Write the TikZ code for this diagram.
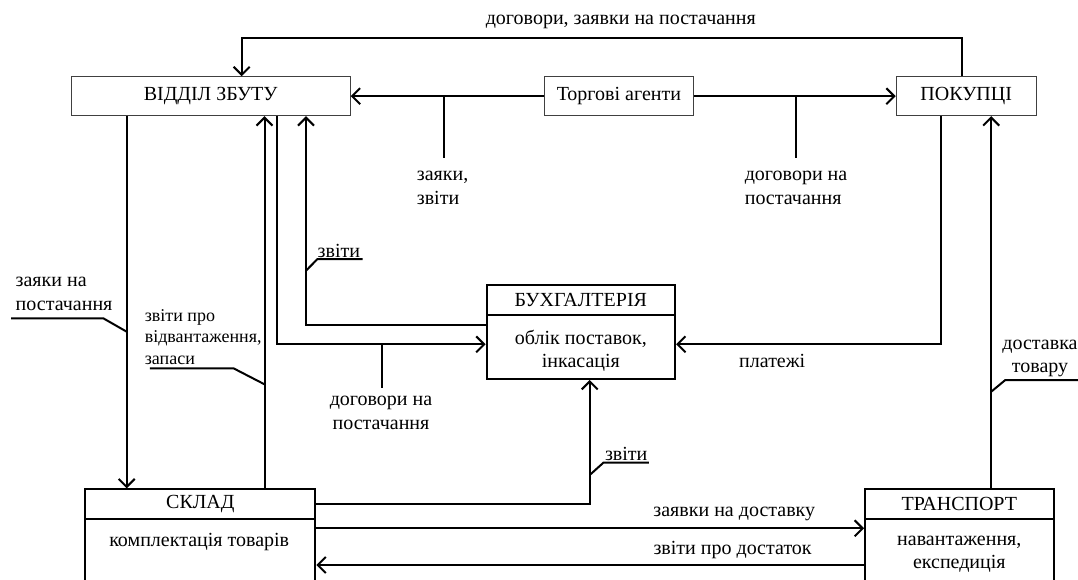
\documentclass[tikz,border=0pt]{standalone}
\usepackage{fontspec}
\setmainfont{Liberation Serif}
\usetikzlibrary{arrows.meta}

\begin{document}
\begin{tikzpicture}[x=1pt, y=-1pt,
    font=\fontsize{20}{23.3}\selectfont,
    box/.style={draw=black!75, line width=1pt, minimum height=39pt, inner sep=0pt},
    head/.style={draw, line width=2pt, minimum height=30pt, inner sep=0pt},
    body/.style={draw, line width=2pt, inner sep=0pt},
    flow/.style={line width=2pt, -{Straight Barb[length=8pt,width=16pt]}},
    link/.style={line width=2pt},
    lbl/.style={inner sep=0pt, align=left}]
    \clip (0,0) rectangle (1078,579);

    % Nodes
    \node[box, minimum width=279pt] (vz) at (210.7,96.2) {ВІДДІЛ ЗБУТУ};
    \node[box, minimum width=149.5pt] (ta) at (618.9,96.2) {Торгові агенти};
    \node[box, minimum width=140pt] (pk) at (966.2,96.2) {ПОКУПЦІ};

    \node[head, minimum width=188.5pt] (bh) at (580.85,300) {БУХГАЛТЕРІЯ};
    \node[body, minimum width=188.5pt, minimum height=64pt] (bhb) at (580.85,347) {};
    \node[lbl, align=center] (bht) at (580.85,350.8) {облік поставок,\\інкасація};

    \node[head, minimum width=230pt] (sk) at (200.4,504.3) {СКЛАД};
    \node[body, minimum width=230pt, minimum height=100pt] (skb) at (200.4,569.3) {};
    \node[lbl] (skt) at (199.2,542.3) {комплектація товарів};

    \node[head, minimum width=188.5pt] (tr) at (959.3,504.3) {ТРАНСПОРТ};
    \node[body, minimum width=188.5pt, minimum height=100pt] (trb) at (959.3,569.3) {};
    \node[lbl, align=center] (trt) at (959.3,554.5) {навантаження,\\експедиція};

    % Edges
    \draw[flow] (pk.north -| 962.2,0) |- (241.7,38.3) -- (vz.north -| 241.7,0);
    \draw[flow] (ta.west) -- (vz.east);
    \draw[flow] (ta.east) -- (pk.west);
    \draw[link] (444.2,0 |- ta.west) -- (444.2,158.3);
    \draw[link] (795.6,0 |- ta.east) -- (795.6,157.7);

    \draw[flow] (vz.south -| 126.7,0) -- (sk.north -| 126.7,0);
    \draw[flow] (sk.north -| 264.5,0) -- (vz.south -| 264.5,0);
    \draw[flow] (vz.south -| 276.5,0) |- (bhb.west |- 0,344.3);
    \draw[flow] (bhb.west |- 0,325) -| (vz.south -| 306,0);
    \draw[link] (382.2,344.3) -- (382.2,388.3);
    \draw[flow] (pk.south -| 940.9,0) |- (bhb.east |- 0,344.3);
    \draw[flow] (tr.north -| 991.2,0) -- (pk.south -| 991.2,0);

    \draw[flow] (sk.east) -| (bhb.south -| 589.7,0);
    \draw[flow] (skb.east |- 0,528.3) -- (trb.west |- 0,528.3);
    \draw[flow] (trb.west |- 0,565) -- (skb.east |- 0,565);

    % Labels
    \node[lbl] (l1) at (620.8,22) {договори, заявки на постачання};
    \node[lbl, anchor=west] (l2) at (416.7,188) {заяки,\\звіти};
    \node[lbl, anchor=west] (l3) at (744.6,188) {договори на\\постачання};
    \node[lbl, anchor=west] (l4) at (317.5,251) {звіти};
    \node[lbl, anchor=west] (l5) at (15.5,294) {заяки на\\постачання};
    \node[lbl, anchor=west, font=\fontsize{18}{21.7}\selectfont] (l6) at (144.6,337) {звіти про\\відвантаження,\\запаси};
    \node[lbl, align=center] (l7) at (381,413) {договори на\\постачання};
    \node[lbl] (l8) at (772.2,361) {платежі};
    \node[lbl] (l9) at (626.2,454.3) {звіти};
    \node[lbl, align=center] (l10) at (1040,358.5) {доставка\\товару};
    \node[lbl] (l11) at (734.3,514.3) {заявки на доставку};
    \node[lbl] (l12) at (732.6,550.3) {звіти про достаток};

    % Leaders
    \draw[link] (306,270.7) -- (317.5,259) -- (362.6,259);
    \draw[link] (126.7,331.7) -- (103.3,318.3) -- (11,318.3);
    \draw[link] (264.5,384.3) -- (233.5,368.3) -- (149.8,368.3);
    \draw[link] (589.7,475) -- (603.4,462.7) -- (648.9,462.7);
    \draw[link] (991.2,391.7) -- (1005.3,380) -- (1078,380);
\end{tikzpicture}
\end{document}
